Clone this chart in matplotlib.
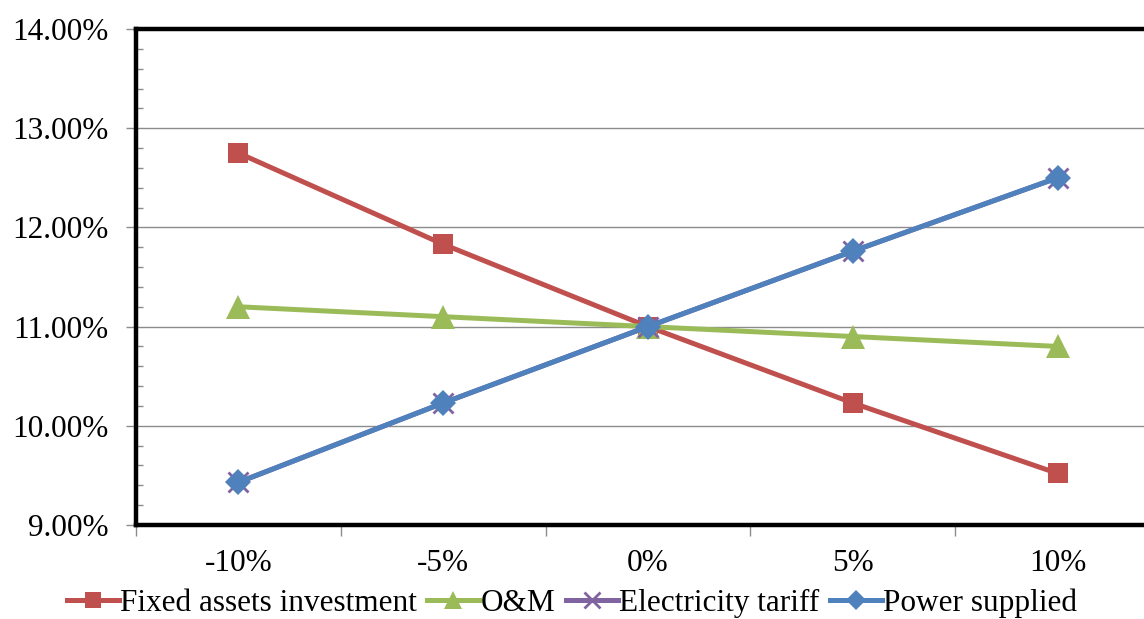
import matplotlib
matplotlib.use("Agg")
import matplotlib.pyplot as plt
from matplotlib.ticker import MultipleLocator, FuncFormatter

plt.rcParams['font.family'] = ['Liberation Serif', 'DejaVu Serif']

categories = ["-10%", "-5%", "0%", "5%", "10%"]
fixed_assets = [12.75, 11.83, 11.00, 10.23, 9.52]
om_cost = [11.20, 11.10, 11.00, 10.90, 10.80]
electricity_tariff = [9.43, 10.23, 11.00, 11.76, 12.50]
power_supplied = [9.43, 10.23, 11.00, 11.76, 12.50]

series = [
    ("Fixed assets investment", fixed_assets, "#C0504D", "s", 15),
    ("O&M", om_cost, "#9BBB59", "^", 17),
    ("Electricity tariff", electricity_tariff, "#8064A2", "x", 14),
    ("Power supplied", power_supplied, "#4F81BD", "D", 13),
]

FS = 22.5

fig = plt.figure(figsize=(11.44, 6.19), dpi=100)
ax = fig.add_axes([136 / 1144, 1 - 525 / 619, 1024 / 1144, 496 / 619])

x = list(range(len(categories)))
for label, vals, color, marker, ms in series:
    mew = 2.0 if marker == "x" else 0
    ax.plot(x, vals, color=color, lw=3.6, marker=marker, markersize=ms,
            markerfacecolor=color, markeredgecolor=color, markeredgewidth=mew,
            label=label, zorder=3)

ax.set_xlim(-0.5, 4.5)
ax.set_ylim(9.0, 14.0)
ax.set_xticks(x)
ax.set_xticklabels(categories)
ax.set_xticks([i - 0.5 for i in range(len(categories) + 1)], minor=True)

ax.yaxis.set_major_locator(MultipleLocator(1.0))
ax.yaxis.set_minor_locator(MultipleLocator(0.2))
ax.yaxis.set_major_formatter(FuncFormatter(lambda v, p: f"{v:.2f}%"))

ax.grid(axis='y', which='major', color='#8c8c8c', lw=1.0, zorder=0)

for side in ax.spines.values():
    side.set_linewidth(3.2)
    side.set_color('black')

ax.tick_params(axis='x', which='major', length=0, labelsize=FS, pad=17)
ax.tick_params(axis='x', which='minor', length=8, width=1, color='#8c8c8c', direction='out')
ax.tick_params(axis='y', which='major', length=7, width=1, color='#8c8c8c', direction='out',
               labelsize=FS, pad=13)
ax.tick_params(axis='y', which='minor', length=5, width=1, color='#8c8c8c', direction='in')

fig.legend(loc='center', bbox_to_anchor=(0.5, 1 - 603 / 619), ncol=4, frameon=False,
           fontsize=FS, handlelength=1.66, handletextpad=0.05, columnspacing=0.33,
           borderaxespad=0, markerscale=0.8)

fig.savefig("out.png", dpi=100)
